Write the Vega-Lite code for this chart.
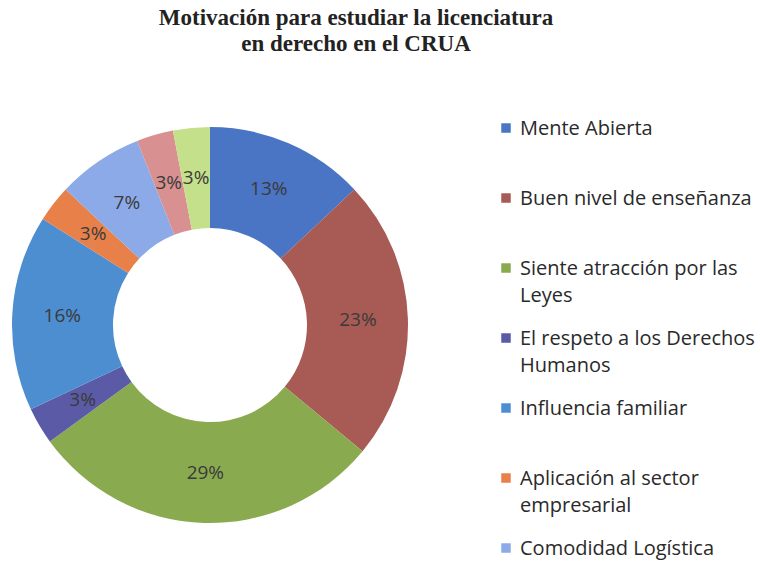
{
  "$schema": "https://vega.github.io/schema/vega-lite/v6.json",
  "autosize": {"type": "none"},
  "width": 420,
  "height": 476,
  "padding": {"left": 0, "top": 87, "right": 340, "bottom": 0},
  "background": "white",
  "config": {
    "style": {"guide-label": {"lineHeight": 27}}
  },
  "title": {
    "text": ["Motivación para estudiar la licenciatura", "en derecho en el CRUA"],
    "font": "Liberation Serif",
    "fontSize": 23,
    "fontWeight": "bold",
    "color": "#222222",
    "lineHeight": 26,
    "anchor": "middle",
    "dx": 146,
    "offset": 31
  },
  "data": {
    "values": [
      {"motivo": "Mente Abierta", "valor": 13, "etiqueta": "13%", "orden": 1},
      {"motivo": "Buen nivel de enseñanza", "valor": 23, "etiqueta": "23%", "orden": 2},
      {"motivo": "Siente atracción por las Leyes", "valor": 29, "etiqueta": "29%", "orden": 3},
      {"motivo": "El respeto a los Derechos Humanos", "valor": 3, "etiqueta": "3%", "orden": 4},
      {"motivo": "Influencia familiar", "valor": 16, "etiqueta": "16%", "orden": 5},
      {"motivo": "Aplicación al sector empresarial", "valor": 3, "etiqueta": "3%", "orden": 6},
      {"motivo": "Comodidad Logística", "valor": 7, "etiqueta": "7%", "orden": 7},
      {"motivo": "Otro motivo", "valor": 3, "etiqueta": "3%", "orden": 8},
      {"motivo": "Otra razón", "valor": 3, "etiqueta": "3%", "orden": 9}
    ]
  },
  "encoding": {
    "theta": {"field": "valor", "type": "quantitative", "stack": true},
    "order": {"field": "orden", "type": "quantitative"}
  },
  "layer": [
    {
      "mark": {"type": "arc", "outerRadius": 198, "innerRadius": 97},
      "encoding": {
        "color": {
          "field": "motivo",
          "type": "nominal",
          "scale": {
            "domain": ["Mente Abierta", "Buen nivel de enseñanza", "Siente atracción por las Leyes", "El respeto a los Derechos Humanos", "Influencia familiar", "Aplicación al sector empresarial", "Comodidad Logística", "Otro motivo", "Otra razón"],
            "range": ["#4A74C4", "#A85A55", "#8AAA50", "#5A5AA6", "#4D8ED0", "#E8804A", "#8CAAE8", "#D89090", "#C5E08A"]
          },
          "legend": {
            "title": null,
            "orient": "none",
            "legendX": 496,
            "legendY": 22,
            "values": ["Mente Abierta", "Buen nivel de enseñanza", "Siente atracción por las Leyes", "El respeto a los Derechos Humanos", "Influencia familiar", "Aplicación al sector empresarial", "Comodidad Logística"],
            "symbolType": "M-1,0.9L1,0.9L1,2.9L-1,2.9Z",
            "symbolSize": 90,
            "symbolStrokeWidth": 0,
            "labelFont": "Open Sans",
            "labelFontSize": 20,
            "labelColor": "#2a2a2a",
            "labelLimit": 300,
            "labelOffset": 4,
            "labelBaseline": "top",
            "rowPadding": 13,
            "labelExpr": "datum.label == 'Siente atracción por las Leyes' ? ['Siente atracción por las', 'Leyes'] : datum.label == 'El respeto a los Derechos Humanos' ? ['El respeto a los Derechos', 'Humanos'] : datum.label == 'Aplicación al sector empresarial' ? ['Aplicación al sector', 'empresarial'] : [datum.label, ' ']"
          }
        }
      }
    },
    {
      "mark": {"type": "text", "radius": 148, "font": "Open Sans", "fontSize": 19, "color": "#3a3a3a"},
      "encoding": {
        "text": {"field": "etiqueta", "type": "nominal"}
      }
    }
  ]
}
